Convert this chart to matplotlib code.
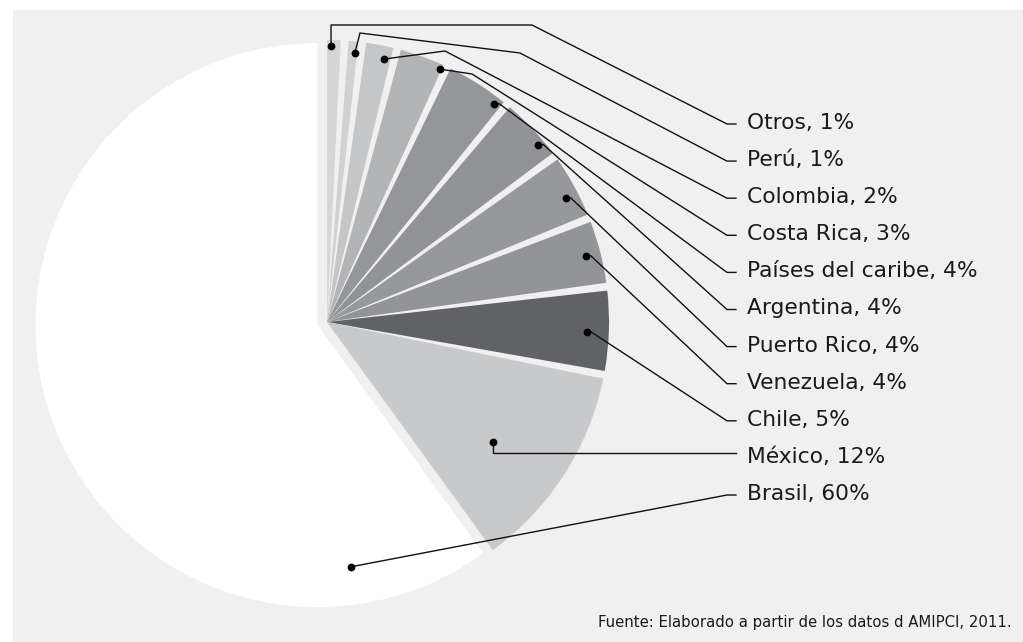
import numpy as np
import matplotlib
matplotlib.use("Agg")
import matplotlib.pyplot as plt
from matplotlib.patches import Wedge, Rectangle

# data: share of each country (%), drawn clockwise from 12 o'clock
labels = ["Otros", "Perú", "Colombia", "Costa Rica", "Países del caribe", "Argentina",
          "Puerto Rico", "Venezuela", "Chile", "México", "Brasil"]
shares = [1, 1, 2, 3, 4, 4, 4, 4, 5, 12, 60]
colors = ["#d5d6d8", "#d0d1d3", "#c5c6c8", "#b3b4b6", "#959699", "#929396",
          "#97989b", "#939497", "#616266", "#c8c9cb", "#ffffff"]
source = "Fuente: Elaborado a partir de los datos d AMIPCI, 2011."

# layout (pixel space)
bg = "#f0f0f0"
cx, cy, R = 327, 322, 282
gap = 1.6             # angular gap between small slices (deg)
explode_big = 10      # Brasil is pulled out a bit
label_x = 747
label_y = np.linspace(124, 495, len(labels))
elbow_dy = [0, 0, 0, 0, 0, 0, 0, 0, 0, -5, 0]
dot_frac = [0.3, 0.75, 0.75, 0.97, 0.9, 0.75, 0.6, 0.5, 0.53, 0.57, 0.13]
dot_r = [276, 270, 269, 277, 275, 276, 269, 267, 260, 205, 244]
via = {
    0: [(331, 25), (532, 25)],
    1: [(360, 33), (520, 53)],
    2: [(445, 51)],
    3: [(472, 74)],
}

fig = plt.figure(figsize=(10.23, 6.42), dpi=100)
ax = fig.add_axes([0, 0, 1, 1])
ax.set_xlim(0, 1023)
ax.set_ylim(642, 0)
ax.set_aspect("equal")
ax.axis("off")

ax.add_patch(Rectangle((13, 10), 1010, 632, color=bg, lw=0, zorder=0))

total = float(sum(shares))
bounds = np.concatenate([[0], np.cumsum(shares)]) / total * 360.0
n_small = len(labels) - 1


def polar(c, a, r):
    # a: degrees clockwise from 12 o'clock (screen y grows downwards)
    a = np.radians(a)
    return c[0] + r * np.sin(a), c[1] - r * np.cos(a)


dots = []
for i, (lab, col) in enumerate(zip(labels, colors)):
    a0, a1 = bounds[i], bounds[i + 1]
    if lab == "Brasil":
        mid = np.radians((a0 + a1) / 2)
        c = (cx + explode_big * np.sin(mid), cy - explode_big * np.cos(mid))
        s0, s1 = a0, a1
    else:
        c = (cx, cy)
        s0 = a0 + (gap / 2 if i > 0 else 0)
        s1 = a1 - (gap / 2 if i < n_small - 1 else 0)
    # with y inverted, theta runs clockwise from east
    ax.add_patch(Wedge(c, R, s0 - 90, s1 - 90, facecolor=col, lw=0, zorder=2))
    da = s0 + dot_frac[i] * (s1 - s0)
    dots.append(polar(c, da, dot_r[i]))

for i, lab in enumerate(labels):
    ly = label_y[i]
    ey = ly + elbow_dy[i]
    dx, dy = dots[i]
    pts = [(dx, dy)]
    if lab == "México":
        pts += [(dx, ey), (736, ey)]
    else:
        if i in via:
            pts += via[i]
        elif lab != "Brasil":
            pts.append((dx + 5, dy))
        pts += [(727, ey), (736, ey)]
    xs, ys = zip(*pts)
    ax.plot(xs, ys, color="#111111", lw=1.0, zorder=3, solid_joinstyle="miter")
    ax.plot(dx, dy, "o", color="#000000", ms=4.6, zorder=4)
    ax.text(label_x, ly - 1, f"{lab}, {shares[i]}%", fontsize=15.7, color="#1a1a1a",
            va="center", ha="left", family="DejaVu Sans")

ax.text(1012, 622, source, fontsize=10.7, color="#1a1a1a", ha="right", va="center",
        family="DejaVu Sans")

fig.savefig("out.png", dpi=100, facecolor="white")
